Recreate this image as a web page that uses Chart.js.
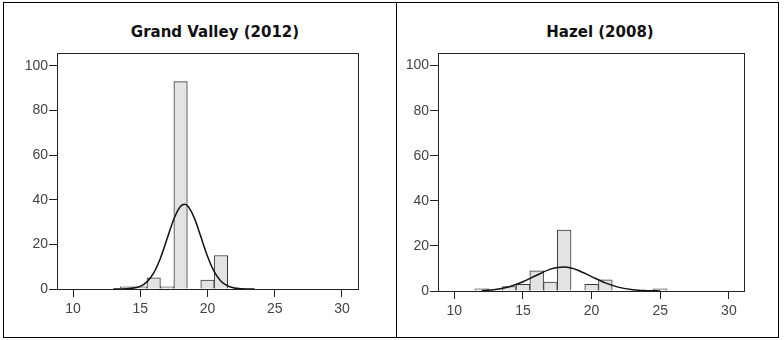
<!DOCTYPE html>
<html>
<head>
<meta charset="utf-8">
<script src="https://cdn.jsdelivr.net/npm/chart.js@4.4.1/dist/chart.umd.min.js"></script>
<style>
    body { margin: 0; background: #fff; width: 784px; height: 340px; position: relative; overflow: hidden; }
    .frame { position: absolute; left: 3px; top: 2px; width: 776px; height: 336px; border: 1px solid #000; box-sizing: border-box; }
    .divider { position: absolute; left: 396px; top: 2px; width: 1px; height: 336px; background: #000; }
    .title { position: absolute; top: 23px; width: 200px; height: 18px; line-height: 18px; text-align: center;
             font-family: "DejaVu Sans", Verdana, sans-serif; font-weight: bold; font-size: 15px; color: #111; }
    canvas { position: absolute; }
</style>
</head>
<body>
<div class="frame"></div>
<div class="divider"></div>
<div class="title" style="left:115px">Grand Valley (2012)</div>
<div class="title" style="left:500px">Hazel (2008)</div>
<canvas id="grand-chart" style="left:4px;top:3px;width:391px;height:333px" width="391" height="333"></canvas>
<canvas id="hazel-chart" style="left:397px;top:3px;width:380px;height:333px" width="380" height="333"></canvas>
<script>
// tick labels shared by both panels
const xTicks = [10, 15, 20, 25, 30];
const yTicks = [0, 20, 40, 60, 80, 100];

// Grand Valley (2012) - histogram bins (1 unit wide) and counts
const grandBins = [14, 15, 16, 17, 18, 20, 21];
const grandCounts = [1, 1, 5, 1, 93, 4, 15];
// fitted normal curve
const grandCurveX = [13, 13.5, 14, 14.5, 15, 15.5, 16, 16.5, 17, 17.5, 18, 18.3, 18.5, 19, 19.5, 20, 20.5, 21, 21.5, 22, 22.5, 23, 23.5];
const grandCurveY = [0, 0.03, 0.1, 0.4, 1.2, 3.2, 7.2, 13.8, 22.6, 31.4, 37.1, 38, 37.4, 32.1, 23.5, 14.7, 7.8, 3.5, 1.4, 0.45, 0.12, 0.03, 0];

// Hazel (2008)
const hazelBins = [12, 14, 15, 16, 17, 18, 20, 21, 25];
const hazelCounts = [1, 2, 3, 9, 4, 27, 3, 5, 1];
const hazelCurveX = [12, 13, 14, 15, 16, 17, 17.5, 18, 18.5, 19, 20, 21, 22, 23, 24, 25];
const hazelCurveY = [0.2, 0.7, 1.9, 4.1, 7.0, 9.7, 10.4, 10.6, 10.2, 9.2, 6.4, 3.6, 1.6, 0.55, 0.16, 0.03];

const lineColor = '#222';
const tickColor = '#444';

// draws the closed box round the plot area
const boxPlugin = {
    id: 'box',
    afterDraw(chart) {
        const {ctx, chartArea} = chart;
        ctx.save();
        ctx.strokeStyle = lineColor;
        ctx.lineWidth = 1;
        ctx.strokeRect(Math.round(chartArea.left) + 0.5, Math.round(chartArea.top) + 0.5,
            Math.round(chartArea.right - chartArea.left), Math.round(chartArea.bottom - chartArea.top));
        ctx.restore();
    }
};

function makeHistogram(canvasId, bins, counts, curveX, curveY, geo) {
    const bars = bins.map((b, i) => ({x: b, y: counts[i]}));
    const curve = curveX.map((x, i) => ({x: x, y: curveY[i]}));

    return new Chart(document.getElementById(canvasId), {
        type: 'bar',
        data: {
            datasets: [
                {
                    type: 'line',
                    data: curve,
                    borderColor: '#111',
                    borderWidth: 1.5,
                    pointRadius: 0,
                    fill: false,
                    cubicInterpolationMode: 'monotone',
                    order: 0
                },
                {
                    data: bars,
                    backgroundColor: '#e3e3e3',
                    borderColor: '#3a3a3a',
                    borderWidth: 1,
                    barPercentage: 1,
                    categoryPercentage: 1,
                    order: 1
                }
            ]
        },
        options: {
            responsive: false,
            animation: false,
            events: [],
            layout: {
                padding: {left: 0, top: geo.top, right: geo.right, bottom: 0}
            },
            plugins: {
                legend: {display: false},
                tooltip: {enabled: false}
            },
            scales: {
                x: {
                    type: 'linear',
                    min: geo.xMin,
                    max: geo.xMax,
                    offset: false,
                    afterBuildTicks: (axis) => { axis.ticks = xTicks.map(v => ({value: v})); },
                    afterFit: (axis) => { axis.height = geo.xHeight; },
                    grid: {offset: false, drawOnChartArea: false, drawTicks: true, tickLength: 8, color: lineColor},
                    border: {display: false},
                    ticks: {padding: 4, color: tickColor, font: {family: 'Liberation Sans', size: 14}}
                },
                y: {
                    min: 0,
                    max: geo.yMax,
                    afterBuildTicks: (axis) => { axis.ticks = yTicks.map(v => ({value: v})); },
                    afterFit: (axis) => { axis.width = geo.yWidth; },
                    grid: {drawOnChartArea: false, drawTicks: true, tickLength: 8, color: lineColor},
                    border: {display: false},
                    ticks: {padding: 1, color: tickColor, font: {family: 'Liberation Sans', size: 14}}
                }
            }
        },
        plugins: [boxPlugin]
    });
}

let charts = {
    grand: makeHistogram('grand-chart', grandBins, grandCounts, grandCurveX, grandCurveY,
        {top: 50, right: 37, yWidth: 53, xHeight: 47, xMin: 8.81, xMax: 31.19, yMax: 105.8}),
    hazel: makeHistogram('hazel-chart', hazelBins, hazelCounts, hazelCurveX, hazelCurveY,
        {top: 50, right: 33, yWidth: 41, xHeight: 45, xMin: 8.81, xMax: 31.1, yMax: 105.6})
};
</script>
</body>
</html>
